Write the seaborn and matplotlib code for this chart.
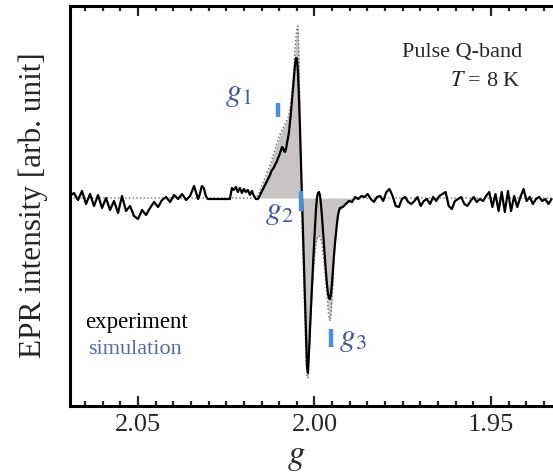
import numpy as np
import matplotlib
matplotlib.use("Agg")
import matplotlib.pyplot as plt
import seaborn as sns
from matplotlib.ticker import MultipleLocator, FormatStrFormatter

g_left = np.linspace(2.0693, 2.0330, 33)
exp_left = [0.02, 0.05, -0.02, 0.07, -0.06, 0.04, -0.08, 0.03, -0.10, 0.00, -0.12,
            -0.03, -0.15, 0.02, -0.13, -0.08, -0.18, -0.21, -0.12, -0.17, -0.10, -0.04,
            -0.09, -0.02, 0.01, -0.04, 0.03, -0.01, 0.04, -0.02, 0.02, 0.12, -0.01]

g_flat = np.linspace(2.0325, 2.0166, 29)
exp_flat = [0.04, 0.12, 0.10, 0.02, -0.01, -0.01, -0.01, -0.01, -0.01, -0.01, -0.01,
            -0.01, -0.01, -0.01, -0.01, -0.01, 0.10, 0.08, 0.11, 0.06, 0.10, 0.05,
            0.09, 0.06, 0.08, 0.03, 0.07, 0.02, -0.01]

g_peak = np.linspace(2.0160, 1.9928, 83)
exp_peak = [-0.01, 0.01, 0.03, 0.05, 0.07, 0.09, 0.11, 0.13, 0.15, 0.17, 0.19, 0.21,
            0.23, 0.26, 0.28, 0.29, 0.31, 0.33, 0.35, 0.37, 0.40, 0.42, 0.45, 0.48,
            0.51, 0.50, 0.47, 0.46, 0.49, 0.55, 0.60, 0.66, 0.76, 0.86, 0.98, 1.10,
            1.22, 1.33, 1.40, 1.39, 1.25, 1.00, 0.70, 0.35, 0.00, -0.33, -0.66, -0.99,
            -1.32, -1.68, -1.75, -1.55, -1.32, -1.10, -0.89, -0.68, -0.48, -0.29, -0.12,
            0.00, 0.05, 0.06, 0.03, -0.06, -0.18, -0.32, -0.46, -0.60, -0.74, -0.86,
            -0.95, -1.00, -1.01, -0.96, -0.86, -0.72, -0.58, -0.46, -0.36, -0.26, -0.18,
            -0.13, -0.10]

g_right = np.linspace(1.9920, 1.9328, 68)
exp_right = [-0.09, -0.06, -0.03, -0.04, 0.01, -0.01, 0.02, 0.01, 0.04, -0.01, -0.04,
             0.01, 0.02, -0.03, 0.06, 0.09, 0.02, -0.08, -0.09, -0.01, 0.01, -0.04,
             -0.06, -0.03, 0.01, -0.08, -0.03, -0.01, -0.06, 0.01, -0.03, 0.02, 0.04,
             0.06, -0.08, -0.11, -0.03, -0.01, 0.01, -0.06, -0.08, -0.03, 0.01, -0.04,
             -0.01, -0.03, 0.02, 0.06, -0.09, 0.04, -0.13, 0.06, -0.14, 0.07, -0.13,
             0.02, -0.09, 0.01, 0.09, -0.03, 0.01, -0.06, -0.01, 0.01, -0.03, -0.01,
             -0.06, -0.01]

# simulation on the peak grid, zero elsewhere
sim_peak = [0.03, 0.05, 0.08, 0.10, 0.13, 0.15, 0.18, 0.20, 0.23, 0.26, 0.28, 0.31,
            0.33, 0.36, 0.39, 0.42, 0.45, 0.48, 0.52, 0.55, 0.58, 0.61, 0.64, 0.66,
            0.68, 0.70, 0.72, 0.74, 0.76, 0.78, 0.80, 0.84, 0.89, 0.96, 1.05, 1.17,
            1.32, 1.48, 1.62, 1.70, 1.72, 1.40, 0.85, 0.25, -0.20, -0.55, -0.90, -1.25,
            -1.58, -1.79, -1.80, -1.62, -1.38, -1.15, -0.96, -0.80, -0.66, -0.54, -0.46,
            -0.41, -0.38, -0.38, -0.39, -0.42, -0.47, -0.55, -0.64, -0.74, -0.86, -0.98,
            -1.10, -1.19, -1.23, -1.18, -1.04, -0.86, -0.66, -0.48, -0.35, -0.26, -0.19,
            -0.15, -0.12]
sim_head_g = [2.0693, 2.0166]
sim_head = [0.0, 0.0]
sim_tail_g = [1.9917, 1.9905, 1.9894, 1.9877, 1.9324]
sim_tail = [-0.08, -0.04, -0.02, 0.0, 0.0]

# principal g values (marker bars) and their labels
g_marks = [2.0103, 2.0039, 1.9954]
mark_lo = [0.81, -0.13, -1.49]
mark_hi = [0.95, 0.07, -1.31]
g_names = ["$g_1$", "$g_2$", "$g_3$"]
name_pos = [(2.0215, 1.04), (2.0101, -0.14), (1.9892, -1.41)]

g_exp = np.concatenate([g_left, g_flat, g_peak, g_right])
int_exp = np.concatenate([exp_left, exp_flat, exp_peak, exp_right])
g_sim = np.concatenate([sim_head_g, g_peak, sim_tail_g])
int_sim = np.concatenate([sim_head, sim_peak, sim_tail])

sns.set_theme(style="ticks")
plt.rcParams["font.family"] = ["Liberation Serif", "DejaVu Serif"]
plt.rcParams["mathtext.fontset"] = "stix"

fig = plt.figure(figsize=(5.53, 4.77), dpi=100)
ax = fig.add_axes([70 / 553, 1 - 407 / 477, 483 / 553, 400 / 477])

ax.fill_between(g_sim, int_sim, 0, color="#c8c4c4", lw=0, zorder=1)
ax.plot(g_sim, int_sim, ls=":", color="#6e6e6e", lw=1.0, zorder=2)
sns.lineplot(x=g_exp, y=int_exp, sort=False, estimator=None,
             color="black", lw=1.6, ax=ax, zorder=3)

ax.vlines(g_marks, mark_lo, mark_hi, color="#4a8fd8", lw=3.2, zorder=4)
for name, (gx, gy) in zip(g_names, name_pos):
    ax.text(gx, gy, name, fontsize=23, color="#4b5690", ha="center", va="center")

ax.text(0.031, 0.21, "experiment", transform=ax.transAxes, fontsize=16.5,
        color="black", va="center")
ax.text(0.037, 0.1425, "simulation", transform=ax.transAxes, fontsize=16,
        color="#5b6a9c", va="center")
ax.text(0.936, 0.8875, "Pulse Q-band", transform=ax.transAxes, fontsize=16,
        ha="right", va="center")
ax.text(0.932, 0.8125, "$T$ = 8 K", transform=ax.transAxes, fontsize=16,
        ha="right", va="center")

ax.set_xlim(2.0693, 1.9324)
ax.set_ylim(-2.08, 1.92)
ax.set_yticks([])
ax.xaxis.set_major_locator(MultipleLocator(0.05))
ax.xaxis.set_minor_locator(MultipleLocator(0.005))
ax.xaxis.set_major_formatter(FormatStrFormatter("%.2f"))
ax.tick_params(axis="x", which="both", direction="in", top=True, bottom=True,
               width=1.6, labelsize=19, pad=5)
ax.tick_params(axis="x", which="major", length=7)
ax.tick_params(axis="x", which="minor", length=3.5)
for side in ["left", "top", "bottom"]:
    ax.spines[side].set_linewidth(2.2)
    ax.spines[side].set_color("black")
ax.spines["right"].set_visible(False)

ax.set_xlabel("$g$", fontsize=25)
ax.xaxis.set_label_coords(0.468, -0.082)
ax.set_ylabel("EPR intensity [arb. unit]", fontsize=22.5)
ax.yaxis.set_label_coords(-0.045, 0.505)

fig.savefig("out.png", dpi=100)
